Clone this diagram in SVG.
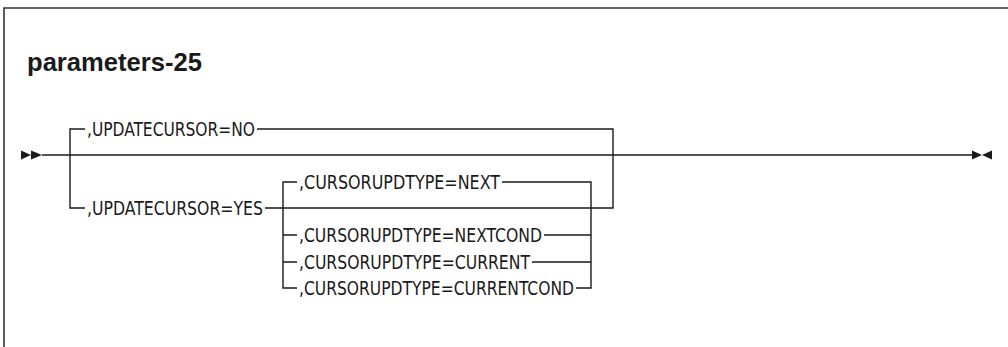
<svg xmlns="http://www.w3.org/2000/svg" width="1008" height="347" viewBox="0 0 1008 347">
<style>
.ln{stroke:#1a1a1a;stroke-width:1.4;fill:none}
.lb{font-family:"DejaVu Sans Condensed","Roboto","Liberation Sans",sans-serif;font-stretch:condensed;font-size:19px;fill:#1a1a1a}
.ttl{font-family:"Liberation Sans","Arial",sans-serif;font-size:25px;font-weight:bold;fill:#1a1a1a}
.ah{fill:#1a1a1a}
</style>
<rect width="1008" height="347" fill="#fff"/>
<g id="frame">
<path d="M4,347 V8 H1008" stroke="#333" stroke-width="1.6" fill="none"/>
</g>
<text class="ttl" x="27" y="71" textLength="175" lengthAdjust="spacingAndGlyphs">parameters-25</text>
<g id="connectors">
<path class="ln" d="M42,155 H972"/>
<path d="M617,155 H639" stroke="#555" stroke-width="1.8"/>
<path class="ln" d="M70,155 V129 H85 M257,129 H613 V208 H265"/>
<path class="ln" d="M70,155 V208 H85"/>
<path class="ln" d="M283,208 V182 H297 M502,182 H591 V288 H576 M283,208 V288 H297 M283,235 H297 M283,262 H297 M544,235 H591 M532,262 H591"/>
</g>
<g id="start">
<path class="ah" d="M21,150.5 L31,155 L21,159.5 Z M31,150.5 L42,155 L31,159.5 Z"/>
</g>
<g id="end">
<path class="ah" d="M972,150.5 L982,155 L972,159.5 Z M992,150.5 L982,155 L992,159.5 Z"/>
</g>
<g id="n-updatecursor-no"><text class="lb" x="87" y="136" textLength="168" lengthAdjust="spacingAndGlyphs">,UPDATECURSOR=NO</text></g>
<g id="n-updatecursor-yes"><text class="lb" x="87" y="215" textLength="176" lengthAdjust="spacingAndGlyphs">,UPDATECURSOR=YES</text></g>
<g id="n-next"><text class="lb" x="299" y="189" textLength="201" lengthAdjust="spacingAndGlyphs">,CURSORUPDTYPE=NEXT</text></g>
<g id="n-nextcond"><text class="lb" x="299" y="242" textLength="243" lengthAdjust="spacingAndGlyphs">,CURSORUPDTYPE=NEXTCOND</text></g>
<g id="n-current"><text class="lb" x="299" y="269" textLength="231" lengthAdjust="spacingAndGlyphs">,CURSORUPDTYPE=CURRENT</text></g>
<g id="n-currentcond"><text class="lb" x="299" y="295" textLength="275" lengthAdjust="spacingAndGlyphs">,CURSORUPDTYPE=CURRENTCOND</text></g>
</svg>
